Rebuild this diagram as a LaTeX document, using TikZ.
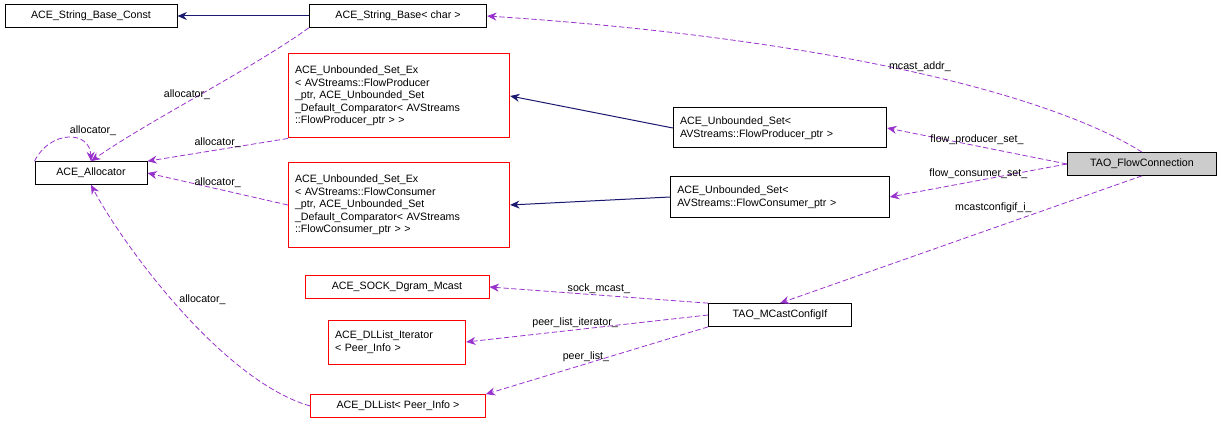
\documentclass[tikz,border=0pt]{standalone}
\usepackage{fontspec}
\setmainfont{Liberation Sans}
\usetikzlibrary{arrows.meta}
\tikzstyle{cls} = [rectangle, draw=black, fill=white, line width=0.75pt, inner sep=2pt, align=left, font=\fontsize{8}{9.4}\selectfont]
\tikzstyle{redcls} = [cls, draw=red, inner xsep=5pt]
\tikzstyle{inherit} = [draw={rgb,255:red,25;green,25;blue,112}, line width=0.75pt, -{Stealth[length=7pt,width=6pt]}]
\tikzstyle{usage} = [draw={rgb,255:red,153;green,50;blue,204}, line width=0.6pt, dash pattern=on 4pt off 2pt, -{Stealth[length=7pt,width=6pt]}]
\tikzstyle{lbl} = [font=\fontsize{8}{9.4}\selectfont, inner sep=1pt]

\begin{document}
\begin{tikzpicture}[x=0.75pt, y=-0.75pt]
    \useasboundingbox (0,0) rectangle (1224,424);

    \node (strconst) [cls, minimum width=129pt, minimum height=17pt] at (91,16) {ACE\_String\_Base\_Const};
    \node (strbase) [cls, minimum width=133pt, minimum height=17pt] at (398,16) {ACE\_String\_Base\textless{} char \textgreater};
    \node (alloc) [cls, minimum width=84pt, minimum height=17pt] at (91,173) {ACE\_Allocator};
    \node (exprod) [redcls, text width=156pt, minimum height=63pt] at (399,96) {ACE\_Unbounded\_Set\_Ex\\\textless{} AVStreams::FlowProducer\\\_ptr, ACE\_Unbounded\_Set\\\_Default\_Comparator\textless{} AVStreams\\::FlowProducer\_ptr \textgreater{} \textgreater};
    \node (excons) [redcls, text width=156pt, minimum height=64pt] at (399,205) {ACE\_Unbounded\_Set\_Ex\\\textless{} AVStreams::FlowConsumer\\\_ptr, ACE\_Unbounded\_Set\\\_Default\_Comparator\textless{} AVStreams\\::FlowConsumer\_ptr \textgreater{} \textgreater};
    \node (prodset) [cls, inner xsep=5pt, text width=150pt, minimum height=30pt] at (780,128) {ACE\_Unbounded\_Set\textless\\ AVStreams::FlowProducer\_ptr \textgreater};
    \node (consset) [cls, inner xsep=5pt, text width=154pt, minimum height=30pt] at (780,197) {ACE\_Unbounded\_Set\textless\\ AVStreams::FlowConsumer\_ptr \textgreater};
    \node (flowconn) [cls, fill=black!20, minimum width=112pt, minimum height=17pt] at (1142,164) {TAO\_FlowConnection};
    \node (sockmc) [redcls, minimum width=138pt, minimum height=17pt] at (397,287) {ACE\_SOCK\_Dgram\_Mcast};
    \node (dliter) [redcls, text width=93pt, minimum height=33pt] at (397,342) {ACE\_DLList\_Iterator\\\textless{} Peer\_Info \textgreater};
    \node (dllist) [redcls, minimum width=131pt, minimum height=17pt] at (398,406) {ACE\_DLList\textless{} Peer\_Info \textgreater};
    \node (mcastcfg) [cls, minimum width=107pt, minimum height=17pt] at (780,315) {TAO\_MCastConfigIf};

    \draw [inherit] (strbase) -- (strconst);
    \draw [inherit] (prodset.west) -- (exprod.east);
    \draw [inherit] (consset.west) -- (excons.east);

    \draw [usage] (flowconn.north) .. controls (1060,100) and (850,40) .. node[lbl, pos=0.5, above]{mcast\_addr\_} (strbase.east);
    \draw [usage] (flowconn.west) -- node[lbl, above]{flow\_producer\_set\_} (prodset.east);
    \draw [usage] (flowconn.west) -- node[lbl, above]{flow\_consumer\_set\_} (consset.east);
    \draw [usage] (flowconn.south) -- node[lbl, pos=0.3, above left]{mcastconfigif\_i\_} (mcastcfg.north);
    \draw [usage] (mcastcfg.north west) -- node[lbl, above]{sock\_mcast\_} (sockmc.east);
    \draw [usage] (mcastcfg.west) -- node[lbl, pos=0.55, above]{peer\_list\_iterator\_} (dliter.east);
    \draw [usage] (mcastcfg.south west) -- node[lbl, pos=0.55, above]{peer\_list\_} (dllist.north east);
    \draw [usage] (strbase.south west) .. controls (250,70) and (150,120) .. node[lbl, pos=0.45, below left]{allocator\_} (alloc.north);
    \draw [usage] (exprod.south west) -- node[lbl, above]{allocator\_} (alloc.north east);
    \draw [usage] (excons.west) -- node[lbl, above]{allocator\_} (alloc.east);
    \draw [usage] (dllist.west) .. controls (220,380) and (120,240) .. node[lbl, pos=0.5, above right]{allocator\_} (alloc.south);
    \draw [usage] (alloc.north west) .. controls (50,130) and (90,130) .. node[lbl, above right, pos=0.5]{allocator\_} (alloc.north);
\end{tikzpicture}
\end{document}
